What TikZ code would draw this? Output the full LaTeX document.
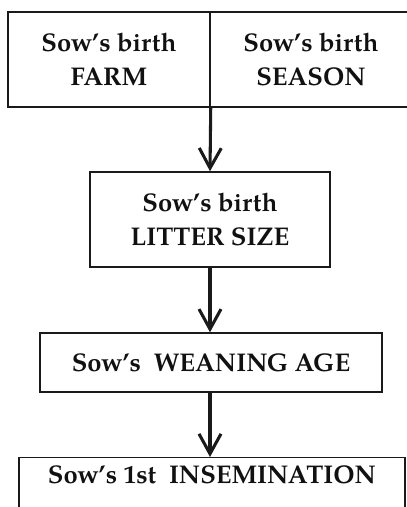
\documentclass[tikz,border=0pt]{standalone}
\usepackage{fontspec}
\setmainfont{TeX Gyre Pagella}
\usetikzlibrary{arrows.meta}
\definecolor{frame}{HTML}{1a1a1a}
\definecolor{ink}{HTML}{111111}

\begin{document}
\begin{tikzpicture}[x=0.75pt, y=-0.75pt,
    stage/.style={shape=rectangle, draw=frame, line width=1.1pt, align=center,
      text=ink, font=\fontsize{19.2}{25}\selectfont\bfseries},
    flow/.style={line width=2.3pt, color=frame,
      -{Straight Barb[length=15pt, width=16.5pt, line width=2.3pt]}}]
    \useasboundingbox (0,0) rectangle (407,507);

    \node at (109, 59.5) (farm) [stage, minimum width=151.5pt, minimum height=71.25pt] {Sow’s birth\\FARM};
    \node at (311, 59.5) (season) [stage, minimum width=151.5pt, minimum height=71.25pt] {Sow’s birth\\SEASON};

    \node at (210, 219.5) (litter) [stage, minimum width=180pt, minimum height=71.25pt] {Sow’s birth\\LITTER SIZE};
    \node at (211, 362.5) (weaning) [stage, minimum width=256.5pt, minimum height=44.25pt] {Sow’s\ \ WEANING AGE};

    % last box runs off the page
    \node at (212, 457) (insem) [stage, anchor=north, minimum width=289.5pt,
      inner ysep=6pt, text height=13pt, text depth=40pt] {Sow’s 1st\ \ INSEMINATION};

    \draw[flow] (farm.south east) -- (litter.north);
    \draw[flow] (litter.south) -- (litter.south |- weaning.north);
    \draw[flow] (litter.south |- weaning.south) -- (litter.south |- insem.north);
  \end{tikzpicture}
\end{document}
